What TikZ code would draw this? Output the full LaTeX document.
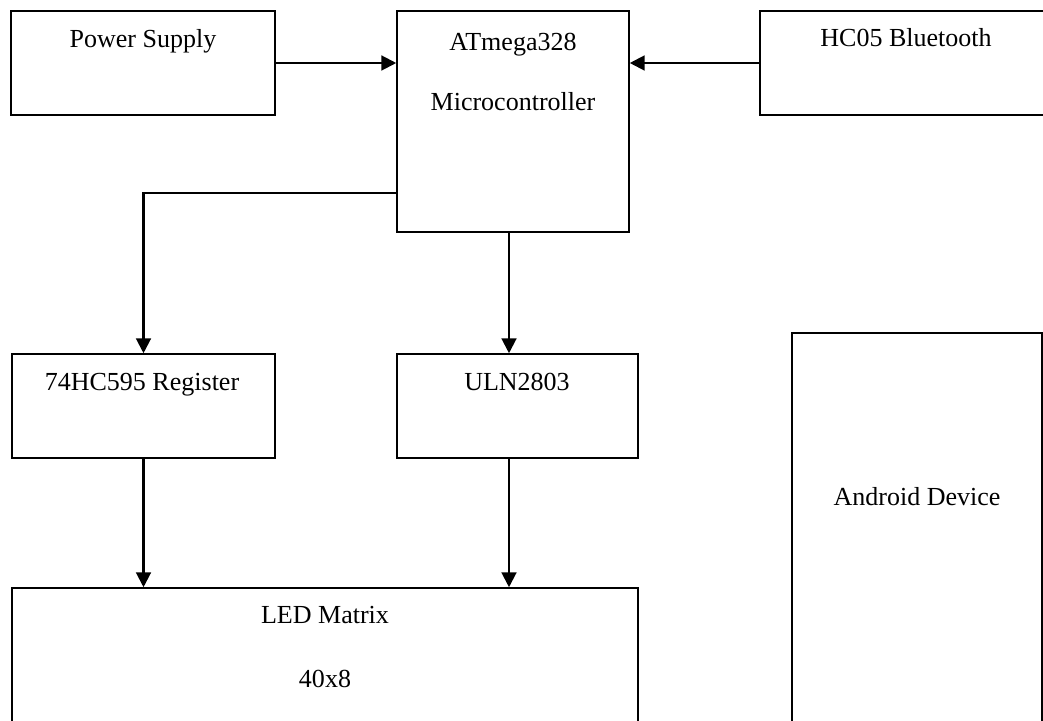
\documentclass[tikz,border=0pt]{standalone}
\usepackage{fontspec}
\setmainfont{Liberation Serif}
\usetikzlibrary{arrows.meta}
\begin{document}
\begin{tikzpicture}[x=0.025cm,y=-0.025cm]
\pgfmathsetmacro{\kpx}{0.025}
\tikzset{blk/.style={draw,line width=1.1pt,rectangle,inner sep=0pt},txt/.style={anchor=base,inner sep=0pt,font=\fontsize{18.5}{22}\selectfont},arr/.style={line width=1.5pt,-{Triangle[length=10.5pt,width=10.5pt]}}}
\useasboundingbox(0,0)rectangle(1043,721);
\clip(0,0)rectangle(1043,721);
\foreach \n/\x/\y/\w/\h in {psu/143/63/264/104,mcu/513/121.5/232/221,hc/915/63/310/104,reg/143.5/406/263/104,uln/517.5/406/241/104,led/325/694/626/212,dev/917/566.5/250/467}{\draw(\x,\y)node[blk,minimum width=\w*\kpx cm,minimum height=\h*\kpx cm](\n){};}
\foreach \n/\x/\y/\t in {t1/143/48/{Power Supply},t2/513/51/{ATmega328},t3/513/111/{Microcontroller},t4/906/47/{HC05 Bluetooth},t5/142/390/{74HC595 Register},t6/517/390/{ULN2803},t7/325/623/{LED Matrix},t8/325/687/{40x8},t9/917/505/{Android Device}}{\draw(\x,\y)node[txt](\n){\t};}
\draw[arr](psu.east)--(mcu.west|-psu.east);
\draw[arr](hc.west)--(mcu.east|-hc.west);
\draw[arr]([yshift=40*\kpx cm]mcu.south west)-|(reg.north);
\draw[arr]([xshift=-4*\kpx cm]mcu.south)--([xshift=-4*\kpx cm]mcu.south|-uln.north);
\draw[arr](reg.south)--(reg.south|-led.north);
\draw[arr]([xshift=-4*\kpx cm]mcu.south|-uln.south)--([xshift=-4*\kpx cm]mcu.south|-led.north);
\end{tikzpicture}
\end{document}
